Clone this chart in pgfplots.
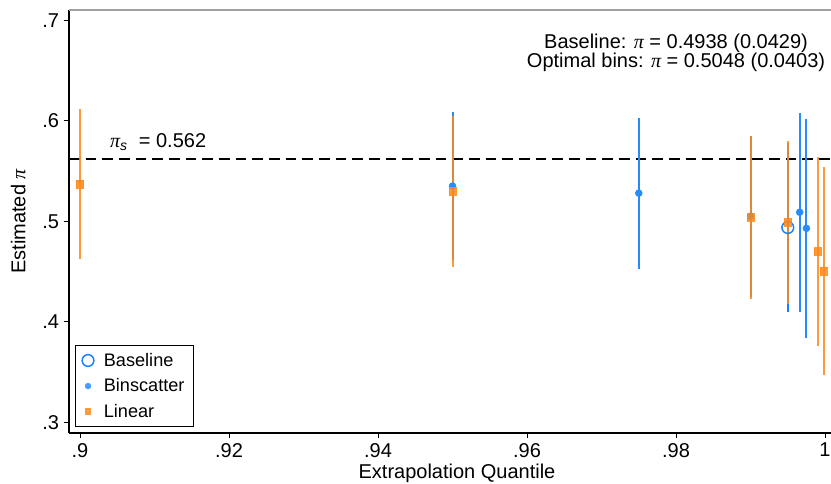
\documentclass[border=0pt]{standalone}
\usepackage{pgfplots}
\pgfplotsset{compat=1.18}
\usepackage{fontspec}
\setmainfont{Liberation Sans}
\newfontfamily\greekfont{Liberation Serif}
\newcommand{\ppi}{{\greekfont\itshape π}}
\usetikzlibrary{calc}

\definecolor{basecol}{RGB}{20,128,255}
\definecolor{bincol}{RGB}{38,140,250}
\definecolor{lincol}{RGB}{255,136,24}

% estimates: x = extrapolation quantile, y = estimate, e = half-width of the 95% interval
\pgfplotstableread{
x      y       e
0.995  0.4938  0.0841
}\baseline
\pgfplotstableread{
x       y      e
0.95    0.535  0.074
0.975   0.528  0.075
0.99    0.505  0.080
0.9966  0.509  0.099
0.9975  0.493  0.109
}\binscatter
\pgfplotstableread{
x       y       e
0.90    0.537   0.0745
0.95    0.530   0.075
0.99    0.504   0.081
0.995   0.499   0.081
0.999   0.470   0.094
0.9998  0.4505  0.1035
}\linear

\begin{document}
\begin{tikzpicture}[font=\fontsize{15}{18}\selectfont]
\begin{axis}[
  scale only axis,
  width=582pt, height=317.25pt,
  xmin=0.89852, xmax=1.00268,
  ymin=0.28935, ymax=0.71025,
  axis x line*=bottom, axis y line*=left,
  axis line style={line width=0.9pt, black},
  tick align=outside,
  major tick length=4pt,
  tick style={line width=0.6pt, black},
  xtick={0.9,0.92,0.94,0.96,0.98,1},
  xticklabels={.9,.92,.94,.96,.98,1},
  ytick={0.3,0.4,0.5,0.6,0.7},
  yticklabels={.3,.4,.5,.6,.7},
  ticklabel style={font=\fontsize{15}{18}\selectfont},
  clip=false,
  legend style={at={(rel axis cs:0.0077,0.0142)}, anchor=south west,
    draw=black, line width=0.75pt, inner xsep=5pt, inner ysep=3.5pt,
    row sep=3.8pt, column sep=5.5pt, font=\fontsize{13.6}{16}\selectfont},
  legend cell align=left,
]
% plot-region border along the top
\draw[gray!75, line width=0.9pt] (rel axis cs:0,1) -- (rel axis cs:1,1);

% reference value
\addplot[black, line width=1.1pt, dash pattern=on 8pt off 4.5pt, forget plot]
  coordinates {(0.89852,0.562) (1.00268,0.562)};
\node[anchor=west] at (axis cs:0.9034,0.5785) {\ppi\textsubscript{\itshape s}\ \ = 0.562};

\node[align=center, font=\fontsize{15}{14.3}\selectfont] at (axis cs:0.98,0.668)
  {Baseline: \ppi{} = 0.4938 (0.0429)\\Optimal bins: \ppi{} = 0.5048 (0.0403)};

% baseline
\addplot[forget plot, color=basecol, only marks, mark=o, mark size=4.4pt,
  mark options={line width=1.1pt},
  error bars/.cd, y dir=both, y explicit, error mark=none,
  error bar style={line width=1.5pt, basecol}]
  table[x=x, y=y, y error=e] {\baseline};

% binscatter
\addplot[forget plot, color=bincol, only marks, mark=*, mark size=2.6pt,
  error bars/.cd, y dir=both, y explicit, error mark=none,
  error bar style={line width=1.5pt, bincol}]
  table[x=x, y=y, y error=e] {\binscatter};

% linear
\addplot[forget plot, color=lincol, only marks, mark=square*, mark size=2.8pt,
  mark options={opacity=0.85},
  error bars/.cd, y dir=both, y explicit, error mark=none,
  error bar style={line width=1.5pt, lincol, opacity=0.85}]
  table[x=x, y=y, y error=e] {\linear};

\addlegendimage{color=basecol, only marks, mark=o, mark size=4.4pt, mark options={line width=1.1pt}}
\addlegendentry{Baseline}
\addlegendimage{color=bincol!85, only marks, mark=*, mark size=2pt}
\addlegendentry{Binscatter}
\addlegendimage{color=lincol!85, only marks, mark=square*, mark size=2.2pt}
\addlegendentry{Linear}

\coordinate (SW) at (rel axis cs:0,0);
\coordinate (W) at (rel axis cs:0,0.5);
\coordinate (S) at (rel axis cs:0.5,0);
\end{axis}

\node[rotate=90] at ($(W)+(-38pt,0)$) {Estimated \ppi};
\node[anchor=base] at ($(S)+(0,-34.5pt)$) {Extrapolation Quantile};

\pgfresetboundingbox
\path[use as bounding box] ($(SW)+(-51.75pt,-38.25pt)$) rectangle ($(SW)+(571.5pt,324.75pt)$);
\end{tikzpicture}
\end{document}
